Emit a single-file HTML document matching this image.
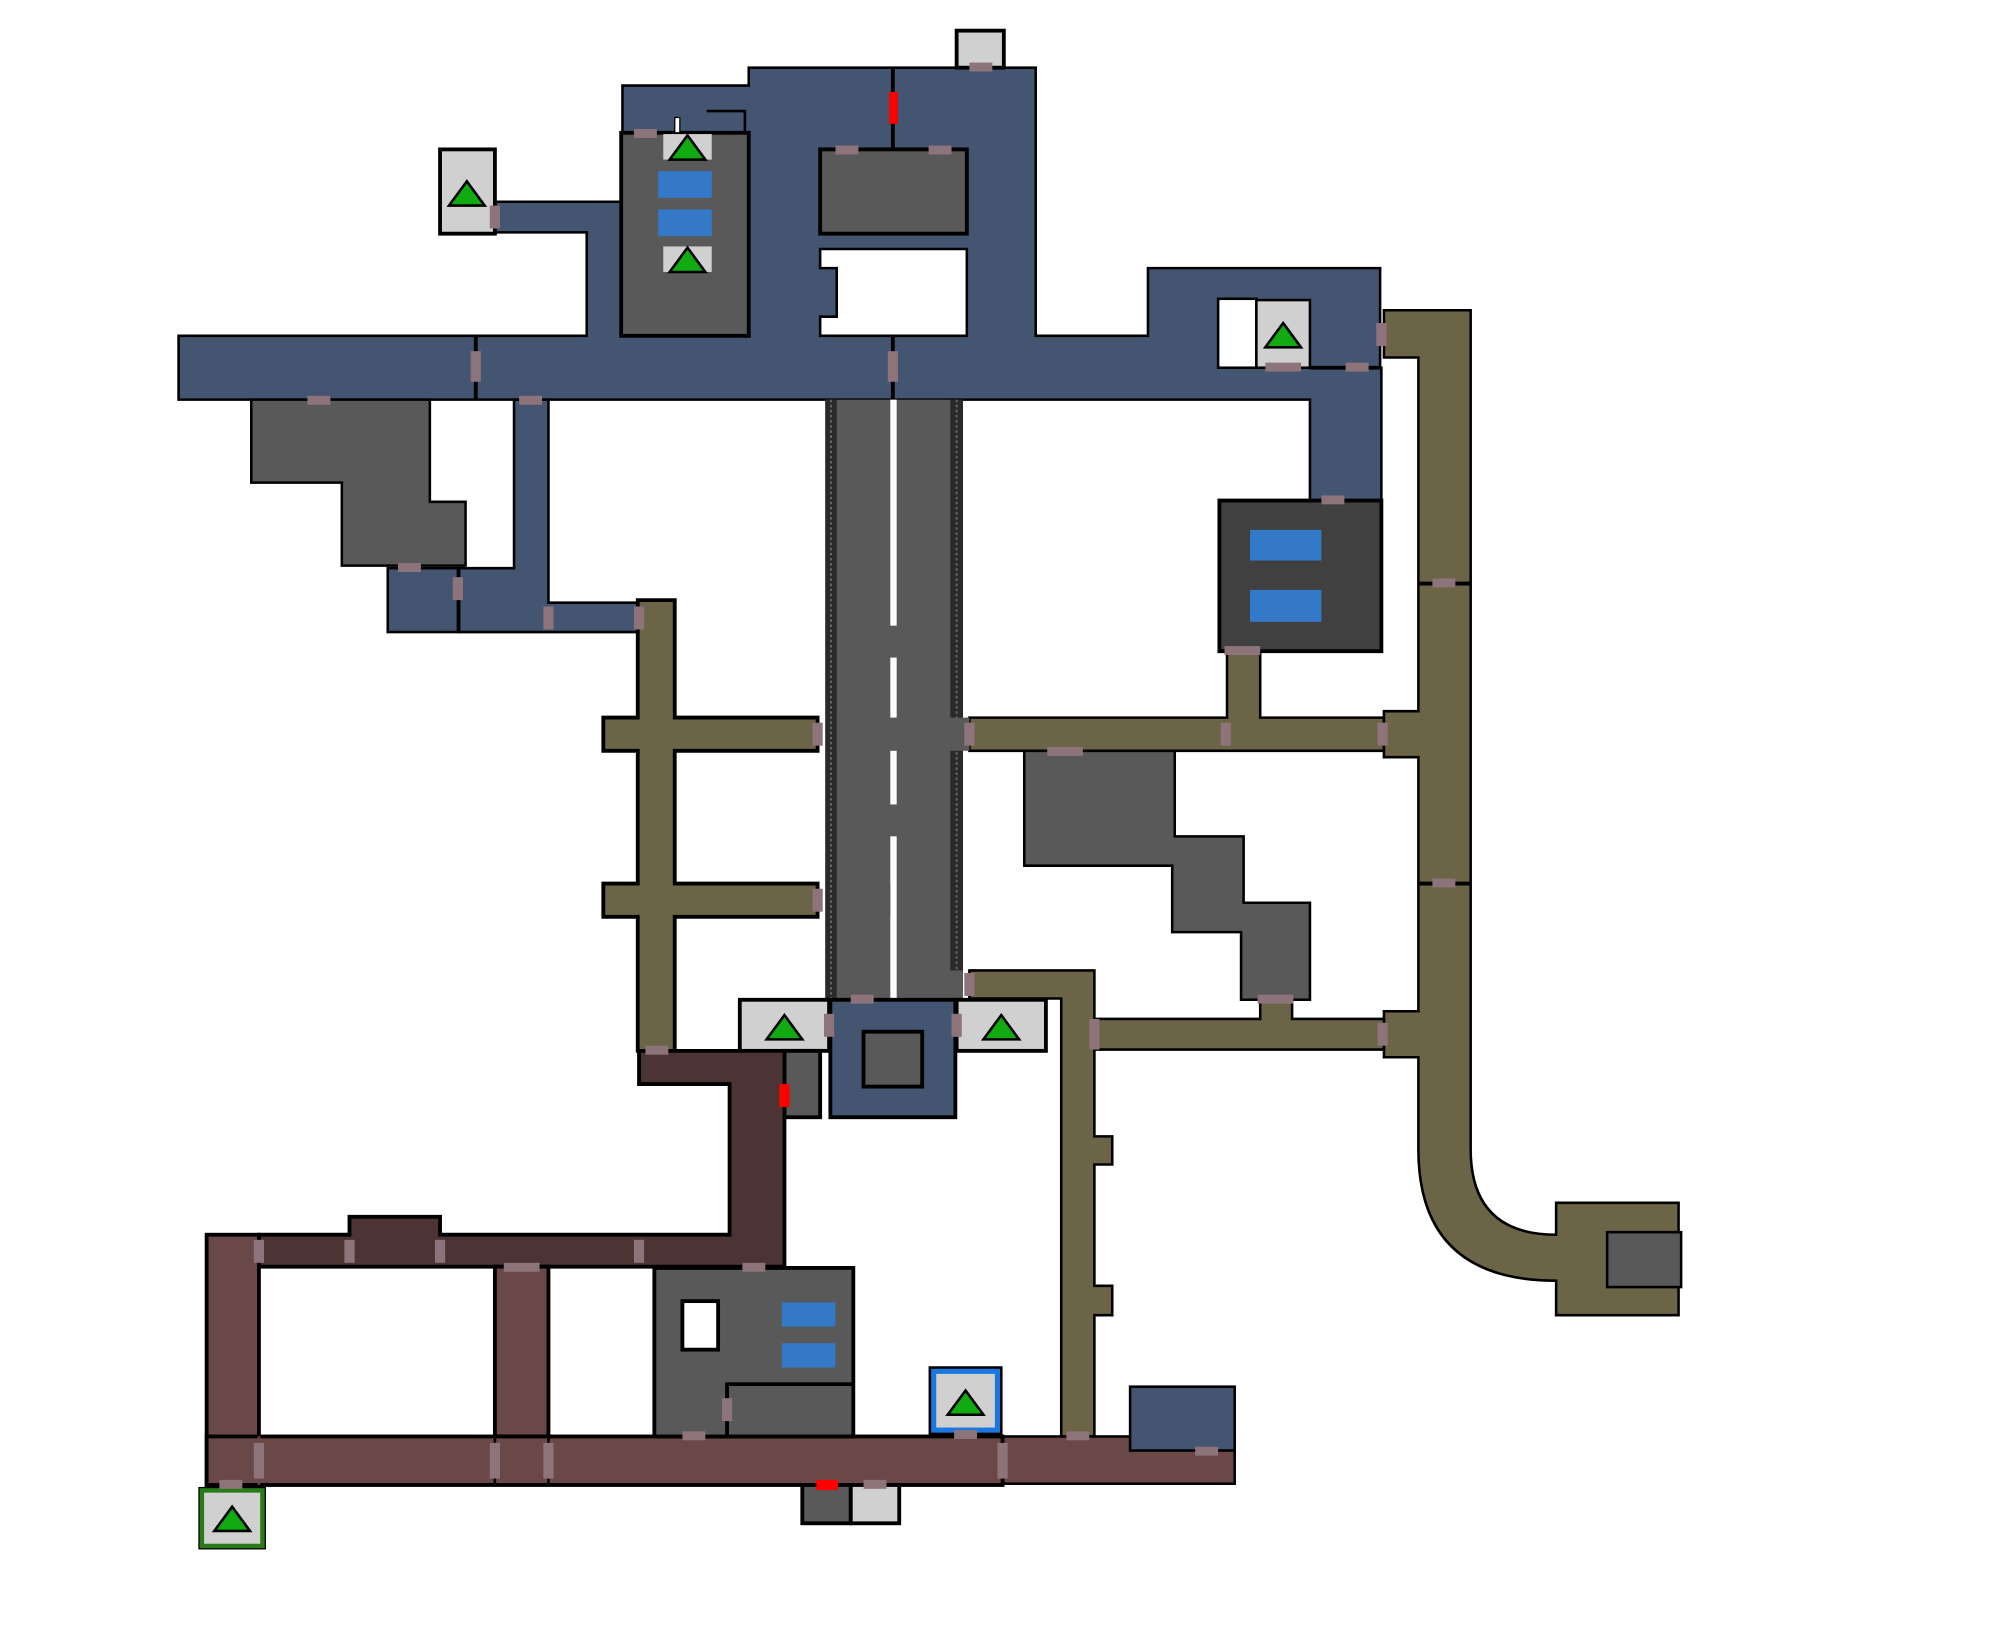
<!DOCTYPE html>
<html><head><meta charset="utf-8"><style>html,body{margin:0;padding:0;background:#fff}svg{display:block}</style></head>
<body>
<svg width="2000" height="1628" viewBox="0 0 1568 1275" preserveAspectRatio="none" xmlns="http://www.w3.org/2000/svg">
<defs>
<g id="tri"><polygon points="-14,10 14,10 0,-9" fill="#11aa11" stroke="#000" stroke-width="2"/></g>
</defs>
<g stroke="#000" stroke-width="2" stroke-linejoin="miter">
<polygon points="488,67 587,67 587,53 812,53 812,263 900,263 900,210 1082,210 1082,288 1083,288 1083,392 1027,392 1027,313 140,313 140,263 460,263 460,182 388,182 388,158 488,158" fill="#435570"/>
<line x1="373" y1="263" x2="373" y2="313" stroke-width="3"/>
<line x1="700" y1="263" x2="700" y2="313" stroke-width="3"/>
<line x1="700" y1="53" x2="700" y2="117" stroke-width="3"/>
<line x1="1027" y1="288" x2="1083" y2="288" stroke-width="3"/>
<rect x="643" y="117" width="115" height="66" fill="#595959" stroke-width="3"/>
<polygon points="643,195 758,195 758,263 643,263 643,248 656,248 656,210 643,210" fill="#fff"/>
<rect x="955" y="234" width="30" height="54" fill="#fff"/>
<rect x="985" y="235" width="42" height="53" fill="#d0d0d0" stroke-width="2"/>
<rect x="487" y="104" width="100" height="159" fill="#595959" stroke-width="3"/>
<path d="M554,87 H584 V104" fill="none" stroke-width="2"/>
<rect x="529" y="92" width="4" height="12" fill="#fff" stroke-width="1"/>
<rect x="520" y="105" width="38" height="20" fill="#d0d0d0" stroke="none"/>
<rect x="520" y="193" width="38" height="20" fill="#d0d0d0" stroke="none"/>
<rect x="516" y="134" width="42" height="21" fill="#3478c8" stroke="none"/>
<rect x="516" y="164" width="42" height="21" fill="#3478c8" stroke="none"/>
<rect x="750" y="24" width="37" height="29" fill="#d0d0d0" stroke-width="3"/>
<rect x="345" y="117" width="43" height="66" fill="#d0d0d0" stroke-width="3"/>
<polygon points="197,313 337,313 337,393 365,393 365,443 268,443 268,378 197,378" fill="#595959"/>
<polygon points="403,313 430,313 430,472 500,472 500,495 360,495 360,445 403,445" fill="#435570"/>
<rect x="304" y="445" width="55" height="50" fill="#435570"/>
<rect x="956" y="392" width="127" height="118" fill="#404040" stroke-width="3"/>
<rect x="980" y="415" width="56" height="24" fill="#3478c8" stroke="none"/>
<rect x="980" y="462" width="56" height="25" fill="#3478c8" stroke="none"/>
<polygon points="500,470 529,470 529,562 641,562 641,588 529,588 529,692 641,692 641,718 529,718 529,823 500,823 500,718 473,718 473,692 500,692 500,588 473,588 473,562 500,562" fill="#6b6446" stroke-width="3"/>
<polygon points="760,562 962,562 962,510 988,510 988,562 1085,562 1085,588 760,588" fill="#6b6446"/>
<path d="M1085,243 H1153 V900 Q1153,967 1220,967 V942 H1316 V1030 H1220 V1003 Q1112,1003 1112,900 V828 H1085 V792 H1112 V593 H1085 V557 H1112 V280 H1085 Z" fill="#6b6446"/>
<line x1="1112" y1="457" x2="1153" y2="457" stroke-width="3"/>
<line x1="1112" y1="692" x2="1153" y2="692" stroke-width="3"/>
<rect x="1260" y="965" width="58" height="43" fill="#595959"/>
<polygon points="858,798 988,798 988,783 1013,783 1013,798 1085,798 1085,822 858,822" fill="#6b6446"/>
<polygon points="760,760 858,760 858,890 872,890 872,912 858,912 858,1007 872,1007 872,1030 858,1030 858,1125 832,1125 832,782 760,782" fill="#6b6446"/>
<polygon points="803,588 921,588 921,655 975,655 975,707 1027,707 1027,783 973,783 973,730 919,730 919,678 803,678" fill="#595959"/>
<rect x="647" y="313" width="108" height="470" fill="#595959" stroke="none"/>
<rect x="647" y="313" width="9" height="470" fill="#2a2a2a" stroke="none"/>
<rect x="745" y="313" width="10" height="447" fill="#2a2a2a" stroke="none"/>
<line x1="651.5" y1="313" x2="651.5" y2="783" stroke="#666" stroke-width="1.5" stroke-dasharray="2,2"/>
<line x1="750" y1="313" x2="750" y2="760" stroke="#666" stroke-width="1.5" stroke-dasharray="2,2"/>
<rect x="698" y="313" width="5" height="177" fill="#fff" stroke="none"/>
<rect x="698" y="515" width="5" height="115" fill="#fff" stroke="none"/>
<rect x="698" y="655" width="5" height="128" fill="#fff" stroke="none"/>
<rect x="656" y="562" width="104" height="26" fill="#595959" stroke="none"/>
<rect x="656" y="692" width="42" height="26" fill="#595959" stroke="none"/>
<rect x="580" y="783" width="70" height="40" fill="#d0d0d0" stroke-width="3"/>
<rect x="750" y="783" width="70" height="40" fill="#d0d0d0" stroke-width="3"/>
<rect x="651" y="783" width="98" height="92" fill="#435570" stroke-width="3"/>
<rect x="677" y="808" width="46" height="43" fill="#595959" stroke-width="3"/>
<rect x="615" y="823" width="28" height="52" fill="#595959" stroke-width="3"/>
<polygon points="501,823 615,823 615,992 203,992 203,967 274,967 274,953 345,953 345,967 572,967 572,849 501,849" fill="#4d3434" stroke-width="3"/>
<rect x="162" y="967" width="41" height="196" fill="#6b4848" stroke-width="3"/>
<rect x="388" y="992" width="42" height="133" fill="#6b4848" stroke-width="3"/>
<rect x="786" y="1125" width="182" height="37" fill="#6b4848"/>
<rect x="162" y="1125" width="624" height="38" fill="#6b4848" stroke-width="3"/>
<line x1="388" y1="1125" x2="388" y2="1163" stroke-width="2"/>
<line x1="430" y1="1125" x2="430" y2="1163" stroke-width="2"/>
<line x1="203" y1="1125" x2="203" y2="1163" stroke="#6b4848" stroke-width="2"/>
<rect x="886" y="1086" width="82" height="50" fill="#435570"/>
<rect x="513" y="993" width="156" height="132" fill="#595959" stroke-width="3"/>
<rect x="535" y="1019" width="28" height="38" fill="#fff" stroke-width="3"/>
<rect x="613" y="1020" width="42" height="19" fill="#3478c8" stroke="none"/>
<rect x="613" y="1052" width="42" height="19" fill="#3478c8" stroke="none"/>
<path d="M570,1125 V1084 H669" fill="none" stroke-width="3"/>
<rect x="729" y="1071" width="56" height="52" fill="#1a78e0" stroke="#000" stroke-width="2"/>
<rect x="734" y="1076" width="46" height="42" fill="#d0d0d0" stroke="none"/>
<rect x="629" y="1163" width="38" height="30" fill="#595959" stroke-width="3"/>
<rect x="667" y="1163" width="38" height="30" fill="#d0d0d0" stroke-width="3"/>
<rect x="156" y="1165" width="52" height="48" fill="#2a7a1a" stroke="#000" stroke-width="1"/>
<rect x="160" y="1169" width="44" height="40" fill="#d0d0d0" stroke="none"/>
</g>
<g fill="#ff0000">
<rect x="697" y="72" width="7" height="25"/>
<rect x="611" y="849" width="8" height="18"/>
<rect x="640" y="1159" width="17" height="8"/>
</g>
<g fill="#8c747a">
<rect x="760" y="49" width="18" height="7"/>
<rect x="497" y="101" width="18" height="7"/>
<rect x="655" y="114" width="18" height="7"/>
<rect x="728" y="114" width="18" height="7"/>
<rect x="384" y="161" width="8" height="18"/>
<rect x="369" y="275" width="8" height="24"/>
<rect x="696" y="275" width="8" height="24"/>
<rect x="241" y="310" width="18" height="7"/>
<rect x="407" y="310" width="18" height="7"/>
<rect x="312" y="441" width="18" height="7"/>
<rect x="355" y="452" width="8" height="18"/>
<rect x="426" y="475" width="8" height="18"/>
<rect x="497" y="475" width="8" height="18"/>
<rect x="1079" y="253" width="8" height="18"/>
<rect x="992" y="284" width="28" height="7"/>
<rect x="1055" y="284" width="18" height="7"/>
<rect x="1036" y="388" width="18" height="7"/>
<rect x="960" y="506" width="28" height="7"/>
<rect x="1123" y="453" width="18" height="7"/>
<rect x="1123" y="688" width="18" height="7"/>
<rect x="637" y="566" width="8" height="18"/>
<rect x="756" y="566" width="8" height="18"/>
<rect x="957" y="566" width="8" height="18"/>
<rect x="1080" y="566" width="8" height="18"/>
<rect x="821" y="585" width="28" height="7"/>
<rect x="637" y="696" width="8" height="18"/>
<rect x="756" y="762" width="8" height="18"/>
<rect x="667" y="779" width="18" height="7"/>
<rect x="646" y="794" width="8" height="18"/>
<rect x="746" y="794" width="8" height="18"/>
<rect x="854" y="798" width="8" height="24"/>
<rect x="986" y="779" width="28" height="7"/>
<rect x="1080" y="801" width="8" height="18"/>
<rect x="506" y="819" width="18" height="7"/>
<rect x="199" y="971" width="8" height="18"/>
<rect x="270" y="971" width="8" height="18"/>
<rect x="341" y="971" width="8" height="18"/>
<rect x="497" y="971" width="8" height="18"/>
<rect x="395" y="989" width="28" height="7"/>
<rect x="582" y="989" width="18" height="7"/>
<rect x="566" y="1095" width="8" height="18"/>
<rect x="535" y="1121" width="18" height="7"/>
<rect x="748" y="1120" width="18" height="7"/>
<rect x="836" y="1121" width="18" height="7"/>
<rect x="937" y="1133" width="18" height="7"/>
<rect x="199" y="1130" width="8" height="28"/>
<rect x="384" y="1130" width="8" height="28"/>
<rect x="426" y="1130" width="8" height="28"/>
<rect x="782" y="1130" width="8" height="28"/>
<rect x="172" y="1159" width="18" height="7"/>
<rect x="677" y="1159" width="18" height="7"/>
</g>
<use href="#tri" x="539" y="115"/>
<use href="#tri" x="539" y="203"/>
<use href="#tri" x="366" y="151"/>
<use href="#tri" x="1006" y="262"/>
<use href="#tri" x="615" y="804"/>
<use href="#tri" x="785" y="804"/>
<use href="#tri" x="757" y="1098"/>
<use href="#tri" x="182" y="1189"/>
</svg>
</body></html>
